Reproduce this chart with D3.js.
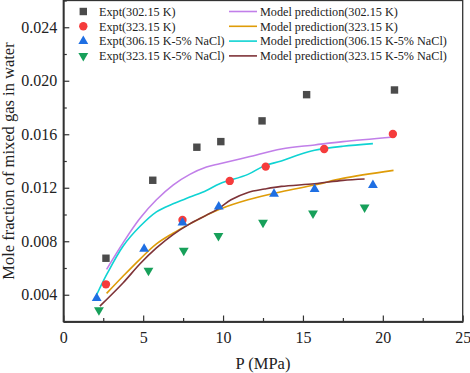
<!DOCTYPE html>
<html>
<head>
<meta charset="utf-8">
<script src="https://cdn.jsdelivr.net/npm/d3@7"></script>
<style>
    body { margin: 0; background: #fff; }
    text { font-family: "Liberation Serif", "Times New Roman", serif; }
</style>
</head>
<body>
<svg id="drawing_region"></svg>
<script>
// experimental points (P in MPa, mole fraction)
const expt302P = [2.67, 5.6, 8.36, 9.86, 12.44, 15.23, 20.73];
const expt302X = [0.00673, 0.01256, 0.01503, 0.01545, 0.0170, 0.01896, 0.01931];
const expt323P = [2.67, 7.46, 10.42, 12.67, 16.33, 20.63];
const expt323X = [0.00478, 0.00959, 0.01251, 0.01358, 0.0149, 0.01602];
const expt306NaClP = [2.09, 5.06, 7.46, 9.73, 13.19, 15.73, 19.38];
const expt306NaClX = [0.00374, 0.00742, 0.00939, 0.01059, 0.01154, 0.01189, 0.01219];
const expt323NaClP = [2.23, 5.33, 7.54, 9.71, 12.5, 15.63, 18.86];
const expt323NaClX = [0.00286, 0.0058, 0.0073, 0.0084, 0.00939, 0.01009, 0.01054];

// model prediction curves
const model302P = [2.71, 3.75, 4.79, 5.83, 6.87, 7.92, 8.96, 9.79, 11.56, 13.65, 15.73, 17.5, 20.67];
const model302X = [0.0059, 0.0079, 0.0097, 0.0111, 0.0122, 0.0130, 0.01355, 0.0138, 0.0143, 0.0149, 0.0152, 0.01545, 0.0158];
const model323P = [2.71, 3.75, 4.79, 5.83, 6.87, 7.92, 8.96, 9.79, 11.56, 13.65, 15.73, 17.5, 20.67];
const model323X = [0.0041, 0.0054, 0.00665, 0.0078, 0.0086, 0.0093, 0.00995, 0.0104, 0.0111, 0.0117, 0.0122, 0.0127, 0.0133];
const model306NaClP = [2.09, 2.71, 3.75, 4.79, 5.83, 6.87, 7.92, 8.96, 9.79, 11.56, 12.6, 13.65, 14.69, 15.73, 17.5, 19.38];
const model306NaClX = [0.0040, 0.0055, 0.00765, 0.0091, 0.0102, 0.0108, 0.0113, 0.0118, 0.0123, 0.0130, 0.01365, 0.0140, 0.01445, 0.0148, 0.0151, 0.0153];
const model323NaClP = [2.29, 3.75, 4.79, 5.83, 6.87, 7.92, 8.96, 9.79, 10.5, 11.56, 12.6, 13.65, 15.73, 17.5, 18.86];
const model323NaClX = [0.00315, 0.0049, 0.0063, 0.0075, 0.0085, 0.0093, 0.00995, 0.0105, 0.0111, 0.01165, 0.0119, 0.0121, 0.0123, 0.01255, 0.01265];

const xTicks = [0, 5, 10, 15, 20, 25];
const xMinorTicks = [2.5, 7.5, 12.5, 17.5, 22.5];
const yTicks = [0.004, 0.008, 0.012, 0.016, 0.020, 0.024];
const yMinorTicks = [0.002, 0.006, 0.010, 0.014, 0.018, 0.022, 0.026];

const zip = (ps, xs) => ps.map((p, i) => ({p: p, x: xs[i]}));

const points = [
    {label: "Expt(302.15 K)", shape: d3.symbolSquare, size: 55, color: "#4b4b4b", values: zip(expt302P, expt302X)},
    {label: "Expt(323.15 K)", shape: d3.symbolCircle, size: 55, color: "#f53c3c", values: zip(expt323P, expt323X)},
    {label: "Expt(306.15 K-5% NaCl)", shape: d3.symbolTriangle, size: 42, color: "#1f6fe3", values: zip(expt306NaClP, expt306NaClX)},
    {label: "Expt(323.15 K-5% NaCl)", shape: d3.symbolTriangle, size: 42, color: "#17a05a", flip: true, values: zip(expt323NaClP, expt323NaClX)}
];

const curves = [
    {label: "Model prediction(302.15 K)", color: "#c17fe9", values: zip(model302P, model302X)},
    {label: "Model prediction(323.15 K)", color: "#df9c08", values: zip(model323P, model323X)},
    {label: "Model prediction(306.15 K-5% NaCl)", color: "#0fd3d3", values: zip(model306NaClP, model306NaClX)},
    {label: "Model prediction(323.15 K-5% NaCl)", color: "#7e3338", values: zip(model323NaClP, model323NaClX)}
];

var config = {
    parent: '#drawing_region',
    width: 470,
    height: 373,
    margin: {top: 0.5, right: 7.3, bottom: 51.5, left: 63.3}
};

const svg = d3.select(config.parent)
    .attr('width', config.width)
    .attr('height', config.height);

const inner_width = config.width - config.margin.left - config.margin.right;
const inner_height = config.height - config.margin.top - config.margin.bottom;

const chart = svg.append('g')
    .attr('transform', `translate(${config.margin.left}, ${config.margin.top})`);

const xscale = d3.scaleLinear().domain([0, 25]).range([0, inner_width]);
const yscale = d3.scaleLinear().domain([0.002, 0.026]).range([inner_height, 0]);

// axes, ticks pointing inward
chart.append('g')
    .attr('transform', `translate(0, ${inner_height})`)
    .call(d3.axisBottom(xscale).tickValues(xTicks).tickSize(-6).tickPadding(10).tickSizeOuter(0));
chart.append('g')
    .attr('transform', `translate(0, ${inner_height})`)
    .call(d3.axisBottom(xscale).tickValues(xMinorTicks).tickSize(-3.5).tickFormat('').tickSizeOuter(0));

chart.append('g')
    .call(d3.axisLeft(yscale).tickValues(yTicks).tickSize(-6).tickPadding(6).tickFormat(d3.format('.3f')).tickSizeOuter(0));
chart.append('g')
    .call(d3.axisLeft(yscale).tickValues(yMinorTicks).tickSize(-3.5).tickFormat('').tickSizeOuter(0));

chart.selectAll('.domain').attr('stroke', '#333').attr('stroke-width', 1.3);
chart.selectAll('.tick line').attr('stroke', '#333').attr('stroke-width', 1.2);
chart.selectAll('.tick text')
    .attr('font-size', 16)
    .attr('fill', '#222')
    .style('font-family', '"Liberation Serif", serif');

// frame
chart.append('rect')
    .attr('width', inner_width)
    .attr('height', inner_height)
    .attr('fill', 'none')
    .attr('stroke', '#333')
    .attr('stroke-width', 1.3);

// model lines
const line = d3.line()
    .x(d => xscale(d.p))
    .y(d => yscale(d.x))
    .curve(d3.curveCatmullRom.alpha(0.5));

chart.selectAll('.model').data(curves).enter()
    .append('path')
    .attr('class', 'model')
    .attr('d', d => line(d.values))
    .attr('fill', 'none')
    .attr('stroke', d => d.color)
    .attr('stroke-width', 1.6);

// experimental markers
points.forEach(s => {
    chart.selectAll(null).data(s.values).enter()
        .append('path')
        .attr('d', d3.symbol().type(s.shape).size(s.size))
        .attr('transform', d => `translate(${xscale(d.p)}, ${yscale(d.x)})` + (s.flip ? ' rotate(180)' : ''))
        .attr('fill', s.color);
});

// axis titles
svg.append('text')
    .attr('x', config.margin.left + inner_width / 2)
    .attr('y', 368.5)
    .attr('text-anchor', 'middle')
    .attr('font-size', 16.5)
    .attr('fill', '#222')
    .text('P (MPa)');

svg.append('text')
    .attr('transform', `translate(14, ${config.margin.top + inner_height / 2}) rotate(-90)`)
    .attr('text-anchor', 'middle')
    .attr('font-size', 16.5)
    .attr('fill', '#222')
    .text('Mole fraction of mixed gas in water');

// legend
const legend = svg.append('g');
const rowY = i => 11.5 + i * 14.8;

points.forEach((s, i) => {
    legend.append('path')
        .attr('d', d3.symbol().type(s.shape).size(s.size))
        .attr('transform', `translate(83.3, ${rowY(i)})` + (s.flip ? ' rotate(180)' : ''))
        .attr('fill', s.color);
    legend.append('text')
        .attr('x', 99)
        .attr('y', rowY(i) + 4.3)
        .attr('font-size', 12.2)
        .attr('fill', '#222')
        .text(s.label);
});

curves.forEach((c, i) => {
    legend.append('line')
        .attr('x1', 229).attr('x2', 257)
        .attr('y1', rowY(i)).attr('y2', rowY(i))
        .attr('stroke', c.color)
        .attr('stroke-width', 1.6);
    legend.append('text')
        .attr('x', 260)
        .attr('y', rowY(i) + 4.3)
        .attr('font-size', 12.2)
        .attr('fill', '#222')
        .text(c.label);
});
</script>
</body>
</html>
